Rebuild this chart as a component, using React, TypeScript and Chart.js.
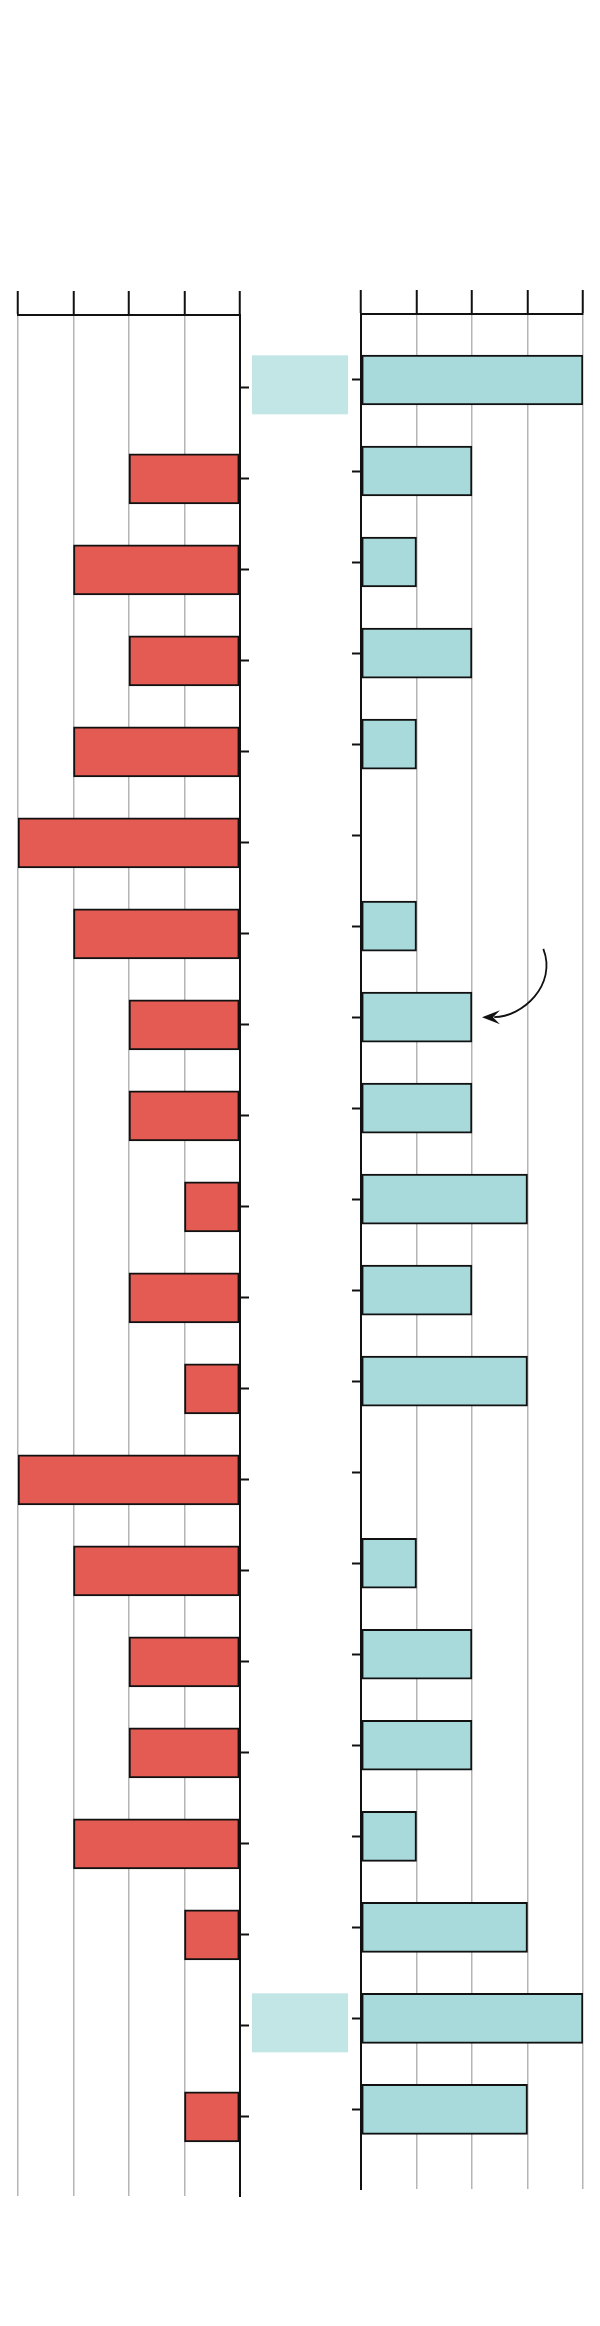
import React, { useEffect, useRef } from "react";
import { Chart, registerables } from "chart.js";

Chart.register(...registerables);

// ---- data ----
const rows = [1, 2, 3, 4, 5, 6, 7, 8, 9, 10, 11, 12, 13, 14, 15, 16, 17, 18, 19, 20];
const leftValues = [0, 2, 3, 2, 3, 4, 3, 2, 2, 1, 2, 1, 4, 3, 2, 2, 3, 1, 0, 1];
const rightValues = [4, 2, 1, 2, 1, 0, 1, 2, 2, 3, 2, 3, 0, 1, 2, 2, 1, 3, 4, 3];
const xTicks = [0, 1, 2, 3, 4];
const highlightRows = [1, 19];
// annotation arrow (right panel, data units)
const arrowStart = { x: 3.285, y: 7.25 };
const arrowCtrl1 = { x: 3.54, y: 7.65 };
const arrowCtrl2 = { x: 2.9, y: 8.0 };
const arrowNotch = { x: 2.4, y: 8.0 };
const arrowTip = { x: 2.18, y: 8.0 };

// ---- styles ----
const RED = "#e35b53";
const CYAN = "#a8dadc";
const BOX = "rgba(168,218,220,0.7)";
const INK = "#111111";
const GRID = "#b5b5b5";

function yScale(min: number, max: number, position: string) {
  return {
    type: "linear",
    position,
    reverse: true,
    offset: false,
    min,
    max,
    ticks: { display: false },
    afterBuildTicks: (s: any) => {
      s.ticks = rows.map((v) => ({ value: v }));
    },
    afterFit: (s: any) => {
      s.width = 9;
    },
    grid: {
      display: true,
      offset: false,
      drawOnChartArea: false,
      drawTicks: true,
      tickLength: 9,
      tickColor: INK,
      tickWidth: 2,
    },
    border: { display: true, color: INK, width: 2 },
  };
}

function xScale(reverse: boolean) {
  return {
    type: "linear",
    position: "top",
    reverse,
    min: 0,
    max: 4,
    ticks: { display: false, stepSize: 1 },
    afterBuildTicks: (s: any) => {
      s.ticks = xTicks.map((v) => ({ value: v }));
    },
    afterFit: (s: any) => {
      s.height = 24;
    },
    grid: {
      color: GRID,
      lineWidth: 1.5,
      drawTicks: true,
      tickLength: 24,
      tickColor: INK,
      tickWidth: 2,
    },
    border: { display: true, color: INK, width: 2 },
  };
}

const boxPlugin = {
  id: "centerBoxes",
  afterDatasetsDraw(chart: any) {
    const { ctx, chartArea, scales } = chart;
    ctx.save();
    ctx.fillStyle = BOX;
    highlightRows.forEach((r) => {
      const cy = scales.y.getPixelForValue(r) - 3;
      ctx.fillRect(chartArea.right + 12, cy - 29.5, 96, 59);
    });
    ctx.restore();
  },
};

const arrowPlugin = {
  id: "arrowNote",
  afterDatasetsDraw(chart: any) {
    const { ctx, scales } = chart;
    const p = (pt: { x: number; y: number }) => [
      scales.x.getPixelForValue(pt.x),
      scales.y.getPixelForValue(pt.y),
    ];
    const [sx, sy] = p(arrowStart);
    const [c1x, c1y] = p(arrowCtrl1);
    const [c2x, c2y] = p(arrowCtrl2);
    const [nx, ny] = p(arrowNotch);
    const [tx, ty] = p(arrowTip);
    ctx.save();
    ctx.strokeStyle = INK;
    ctx.fillStyle = INK;
    ctx.lineWidth = 1.8;
    ctx.beginPath();
    ctx.moveTo(sx, sy);
    ctx.bezierCurveTo(c1x, c1y, c2x, c2y, nx, ny);
    ctx.stroke();
    const ang = Math.atan2(ty - ny, tx - nx);
    const dx = Math.cos(ang);
    const dy = Math.sin(ang);
    const px = -dy;
    const py = dx;
    const L = 18;
    const W = 7;
    const N = 11;
    ctx.beginPath();
    ctx.moveTo(tx, ty);
    ctx.lineTo(tx - L * dx + W * px, ty - L * dy + W * py);
    ctx.lineTo(tx - N * dx, ty - N * dy);
    ctx.lineTo(tx - L * dx - W * px, ty - L * dy - W * py);
    ctx.closePath();
    ctx.fill();
    ctx.restore();
  },
};

export default function App() {
  const leftRef = useRef<HTMLCanvasElement | null>(null);
  const rightRef = useRef<HTMLCanvasElement | null>(null);

  useEffect(() => {
    const common = {
      responsive: false,
      maintainAspectRatio: false,
      animation: false,
      indexAxis: "y",
      plugins: { legend: { display: false }, tooltip: { enabled: false }, title: { display: false } },
    };

    const left = new Chart(leftRef.current as HTMLCanvasElement, {
      type: "bar",
      data: {
        datasets: [
          {
            data: rows.map((r, i) => ({ x: leftValues[i], y: r })),
            backgroundColor: RED,
            borderColor: INK,
            borderWidth: 2,
            borderSkipped: false,
            barThickness: 50,
          },
        ],
      },
      options: {
        ...common,
        layout: { padding: { left: 18, right: 111, top: 291, bottom: 130 } },
        scales: {
          x: xScale(true),
          y: yScale(0.2, 20.87, "right"),
        },
      } as any,
      plugins: [boxPlugin],
    } as any);

    const right = new Chart(rightRef.current as HTMLCanvasElement, {
      type: "bar",
      data: {
        datasets: [
          {
            data: rows.map((r, i) => ({ x: rightValues[i], y: r })),
            backgroundColor: CYAN,
            borderColor: INK,
            borderWidth: 2,
            borderSkipped: false,
            barThickness: 50,
          },
        ],
      },
      options: {
        ...common,
        layout: { padding: { left: 12, right: 17, top: 290, bottom: 137 } },
        scales: {
          x: xScale(false),
          y: yScale(0.275, 20.875, "left"),
        },
      } as any,
      plugins: [arrowPlugin],
    } as any);

    return () => {
      left.destroy();
      right.destroy();
    };
  }, []);

  return (
    <div style={{ position: "absolute", left: 0, top: 0, width: 600, height: 2326, background: "#ffffff" }}>
      <canvas
        ref={leftRef}
        width={360}
        height={2326}
        style={{ position: "absolute", left: 0, top: 0, width: 360, height: 2326 }}
      />
      <canvas
        ref={rightRef}
        width={260}
        height={2326}
        style={{ position: "absolute", left: 340, top: 0, width: 260, height: 2326 }}
      />
    </div>
  );
}
